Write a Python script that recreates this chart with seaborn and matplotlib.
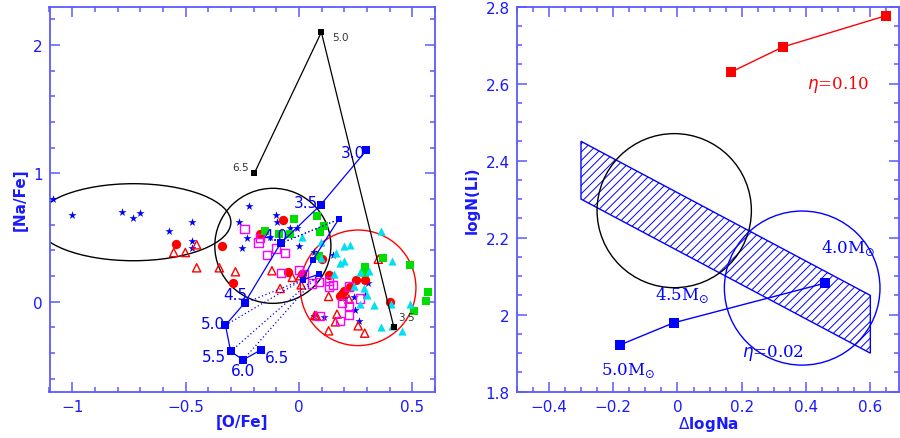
import numpy as np
import pandas as pd
import matplotlib
matplotlib.use("Agg")
import matplotlib.pyplot as plt
import seaborn as sns
from matplotlib.patches import Ellipse, Polygon
from matplotlib.ticker import MultipleLocator, FuncFormatter

sns.set_style("ticks")
plt.rcParams['font.family'] = ['DejaVu Sans']
plt.rcParams['hatch.color'] = 'blue'
plt.rcParams['hatch.linewidth'] = 0.7

AXC = '#5a5aff'
TXC = '#1a1aff'

# ---------------- left panel data ----------------
star_x = [-1.086, -1.0, -0.782, -0.732, -0.702, -0.572, -0.472, -0.472, -0.472, -0.263, -0.221,
          -0.230, -0.251, -0.10, -0.097, -0.127, -0.041, -0.009, 0.0, 0.077, 0.149, 0.068, 0.109,
          0.249, 0.264, 0.298, 0.304, 0.293, 0.242, 0.205, 0.136, 0.068]
star_y = [0.80, 0.675, 0.70, 0.65, 0.688, 0.548, 0.618, 0.47, 0.423, 0.62, 0.748,
          0.496, 0.421, 0.678, 0.618, 0.506, 0.577, 0.577, 0.431, 0.371, 0.364, -0.114, -0.122,
          -0.062, -0.153, 0.229, 0.143, 0.052, 0.034, 0.029, 0.216, 0.387]

rcirc_x = [-0.54, -0.341, -0.289, -0.170, -0.071, -0.050, 0.013, 0.102, 0.131, 0.19, 0.198,
           0.227, 0.251, 0.29, 0.40, 0.183]
rcirc_y = [0.449, 0.436, 0.148, 0.527, 0.639, 0.229, 0.216, 0.332, 0.208, 0.06, 0.086,
           0.119, 0.171, 0.169, 0.0, 0.047]

rtri_x = [-0.552, -0.501, -0.451, -0.451, -0.351, -0.280, -0.119, -0.083, -0.029, 0.006, 0.010,
          0.077, 0.131, 0.131, 0.168, 0.161, 0.22, 0.261, 0.29, 0.35, 0.07]
rtri_y = [0.384, 0.384, 0.444, 0.265, 0.265, 0.234, 0.242, 0.104, 0.19, 0.203, 0.132,
          -0.109, 0.042, -0.226, -0.096, -0.156, 0.021, -0.187, -0.244, 0.332, -0.105]

msq_x = [-0.240, -0.178, -0.171, -0.100, -0.142, -0.06, -0.08, 0.0, 0.021, 0.058, 0.090,
         0.131, 0.131, 0.149, 0.19, 0.22, 0.22, 0.271, 0.091, 0.18, 0.22]
msq_y = [0.566, 0.462, 0.494, 0.416, 0.364, 0.379, 0.223, 0.249, 0.216, 0.143, 0.156,
         0.164, 0.119, 0.13, -0.01, -0.031, -0.101, 0.026, -0.109, -0.148, 0.119]

gsq_x = [-0.149, -0.09, -0.038, -0.021, 0.080, 0.091, 0.112, 0.087, 0.372, 0.29, 0.29,
         0.49, 0.507, 0.569, 0.559]
gsq_y = [0.548, 0.525, 0.532, 0.644, 0.665, 0.540, 0.587, 0.358, 0.345, 0.268, 0.221,
         0.288, -0.075, 0.073, 0.008]

ctri_x = [0.36, 0.227, 0.198, 0.165, 0.198, 0.18, 0.097, 0.099, 0.013, 0.412, 0.308,
          0.268, 0.242, 0.153, 0.289, 0.33, 0.363, 0.412, 0.453, 0.49, 0.404, 0.271, 0.30]
ctri_y = [0.553, 0.442, 0.431, 0.384, 0.319, 0.306, 0.345, 0.462, 0.501, 0.319, 0.242,
          0.229, 0.125, 0.216, 0.104, -0.023, -0.195, -0.192, -0.226, -0.018, -0.018, -0.018, 0.05]

# model tracks
blk_x = [-0.197, 0.099, 0.419]
blk_y = [1.0, 2.10, -0.20]
blk_lab = ['6.5', '5.0', '3.5']

trk_x = [0.298, 0.096, -0.081, -0.240, -0.324, -0.301, -0.246, -0.167]
trk_y = [1.18, 0.756, 0.455, -0.01, -0.182, -0.387, -0.452, -0.374]
trk_lab = ['3.0', '3.5', '4.0', '4.5', '5.0', '5.5', '6.0', '6.5']

trk2_x = [0.175, 0.062, 0.016, 0.087]
trk2_y = [0.642, 0.327, 0.171, 0.214]
# dotted links: index in trk -> index in trk2
link_from = [2, 2, 3, 4, 5, 6]
link_to = [0, 0, 2, 2, 3, 3]

# ---------------- right panel data ----------------
red_x = [0.167, 0.328, 0.648]
red_y = [2.630, 2.695, 2.776]
blu_x = [-0.180, -0.011, 0.460]
blu_y = [1.921, 1.979, 2.082]
band_x = [-0.3, 0.6, 0.6, -0.3]
band_y = [2.45, 2.05, 1.90, 2.30]

fig = plt.figure(figsize=(9, 4.39), dpi=100)
ax1 = fig.add_axes([0.055, 0.1055, 0.4283, 0.8774])
ax2 = fig.add_axes([0.5741, 0.1055, 0.4251, 0.8774])


def style_axes(ax):
    for s in ax.spines.values():
        s.set_color(AXC)
        s.set_linewidth(1.3)
    ax.tick_params(which='both', direction='in', top=True, right=True,
                   color=AXC, labelcolor=TXC, labelsize=11, width=1.1)
    ax.tick_params(which='major', length=7, pad=5)
    ax.tick_params(which='minor', length=3.5)


def minus_fmt(v, p):
    return ('%g' % round(v, 3)).replace('-', '\u2212')


# ---- left panel ----
ax1.add_patch(Ellipse((-0.73, 0.62), 0.86, 0.60, fill=False, ec='black', lw=1))
ax1.add_patch(Ellipse((-0.115, 0.436), 0.512, 0.896, fill=False, ec='black', lw=1))
ax1.add_patch(Ellipse((0.261, 0.109), 0.51, 0.90, fill=False, ec='red', lw=1))

groups = [
    (star_x, star_y, dict(marker='*', color='blue', s=38, linewidth=0)),
    (rcirc_x, rcirc_y, dict(marker='o', color='red', s=45, linewidth=0)),
    (rtri_x, rtri_y, dict(marker='^', facecolor='none', edgecolor='red', s=35, linewidth=1)),
    (msq_x, msq_y, dict(marker='s', facecolor='none', edgecolor='magenta', s=35, linewidth=1)),
    (gsq_x, gsq_y, dict(marker='s', color='#00dd00', s=38, linewidth=0)),
    (ctri_x, ctri_y, dict(marker='^', color='#00e0f0', s=35, linewidth=0)),
]
for gx, gy, kw in groups:
    sns.scatterplot(x=gx, y=gy, ax=ax1, zorder=3, **kw)

for i, j in zip(link_from, link_to):
    sns.lineplot(x=[trk_x[i], trk2_x[j]], y=[trk_y[i], trk2_y[j]], ax=ax1, sort=False,
                 estimator=None, color='blue', lw=0.9, linestyle=(0, (1, 2)), zorder=4)

sns.lineplot(x=trk2_x, y=trk2_y, ax=ax1, sort=False, estimator=None, color='blue', lw=0.9,
             marker='s', markersize=5, markeredgewidth=0, zorder=5)
sns.lineplot(x=trk_x, y=trk_y, ax=ax1, sort=False, estimator=None, color='blue', lw=0.9,
             marker='s', markersize=6, markeredgewidth=0, zorder=5)
sns.lineplot(x=blk_x, y=blk_y, ax=ax1, sort=False, estimator=None, color='black', lw=0.9,
             marker='s', markersize=5, markeredgewidth=0, zorder=5)

trk_off = [(-0.06, -0.02), (-0.065, 0.02), (-0.025, 0.06), (-0.04, 0.065),
           (-0.055, 0.01), (-0.075, -0.04), (0.0, -0.08), (0.07, -0.06)]
for x, y, t, (dx, dy) in zip(trk_x, trk_y, trk_lab, trk_off):
    ax1.text(x + dx, y + dy, t, color='blue', fontsize=11, ha='center', va='center', zorder=6)
blk_off = [(-0.06, 0.047), (0.085, -0.04), (0.055, 0.085)]
for x, y, t, (dx, dy) in zip(blk_x, blk_y, blk_lab, blk_off):
    ax1.text(x + dx, y + dy, t, color='#333333', fontsize=7.5, ha='center', va='center', zorder=6)

ax1.set_xlim(-1.1, 0.6)
ax1.set_ylim(-0.7, 2.3)
ax1.xaxis.set_major_locator(MultipleLocator(0.5))
ax1.xaxis.set_minor_locator(MultipleLocator(0.1))
ax1.yaxis.set_major_locator(MultipleLocator(1))
ax1.yaxis.set_minor_locator(MultipleLocator(0.2))
ax1.xaxis.set_major_formatter(FuncFormatter(minus_fmt))
ax1.yaxis.set_major_formatter(FuncFormatter(minus_fmt))
style_axes(ax1)
ax1.set_xlabel('[O/Fe]', color=TXC, fontsize=11, fontweight='bold', labelpad=0)
ax1.set_ylabel('[Na/Fe]', color=TXC, fontsize=11, fontweight='bold', labelpad=4)

# ---- right panel ----
ax2.add_patch(Polygon(list(zip(band_x, band_y)), closed=True, facecolor='none',
                      edgecolor='blue', hatch='////', lw=1))
ax2.add_patch(Ellipse((-0.010, 2.27), 0.48, 0.40, fill=False, ec='black', lw=1))
ax2.add_patch(Ellipse((0.388, 2.069), 0.484, 0.40, fill=False, ec='blue', lw=1))

sns.lineplot(x=red_x, y=red_y, ax=ax2, sort=False, estimator=None, color='red', lw=1,
             marker='s', markersize=7, markeredgewidth=0)
sns.lineplot(x=blu_x, y=blu_y, ax=ax2, sort=False, estimator=None, color='blue', lw=1,
             marker='s', markersize=7, markeredgewidth=0)

sf = dict(family='DejaVu Serif', fontsize=12)
ax2.text(0.403, 2.60, r'$\eta$=0.10', color='red', va='center', **sf)
ax2.text(0.445, 2.175, r'4.0M$_{\odot}$', color='blue', va='center', **sf)
ax2.text(-0.07, 2.053, r'4.5M$_{\odot}$', color='blue', va='center', **sf)
ax2.text(-0.237, 1.857, r'5.0M$_{\odot}$', color='blue', va='center', **sf)
ax2.text(0.20, 1.902, r'$\eta$=0.02', color='blue', va='center', **sf)

ax2.set_xlim(-0.5, 0.69)
ax2.set_ylim(1.8, 2.8)
ax2.xaxis.set_major_locator(MultipleLocator(0.2))
ax2.xaxis.set_minor_locator(MultipleLocator(0.05))
ax2.yaxis.set_major_locator(MultipleLocator(0.2))
ax2.yaxis.set_minor_locator(MultipleLocator(0.05))
ax2.xaxis.set_major_formatter(FuncFormatter(minus_fmt))
ax2.yaxis.set_major_formatter(FuncFormatter(minus_fmt))
style_axes(ax2)
ax2.set_xlabel(r'$\Delta$logNa', color=TXC, fontsize=11, fontweight='bold', labelpad=0)
ax2.set_ylabel('logN(Li)', color=TXC, fontsize=11, fontweight='bold', labelpad=4)

fig.savefig('out.png', dpi=100)
